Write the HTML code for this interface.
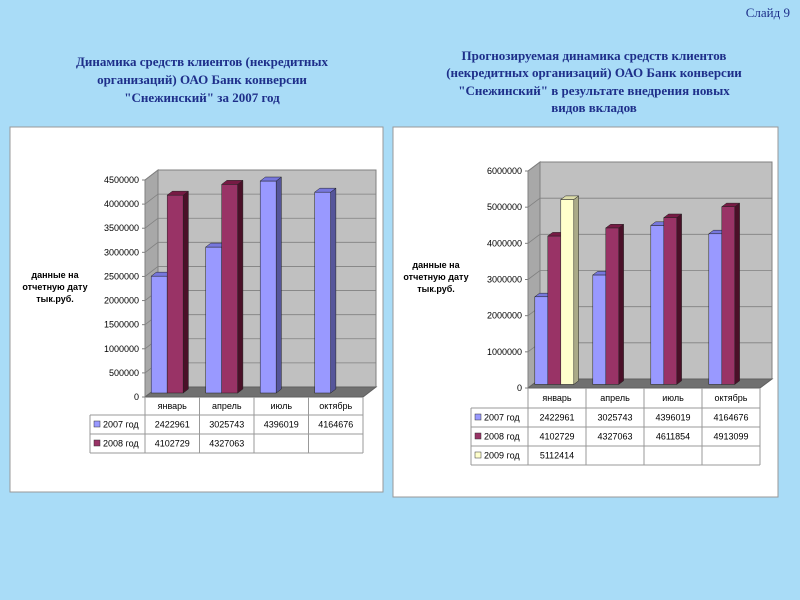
<!DOCTYPE html>
<html><head><meta charset="utf-8">
<style>
body{margin:0;background:#a9dcf7;}
svg{display:block;}
.ttl{font-family:"Liberation Serif",serif;font-weight:bold;font-size:13px;fill:#1e2f8a;text-anchor:middle;}
.ax{font-family:"Liberation Sans",sans-serif;font-size:9px;fill:#000;}
.axb{font-family:"Liberation Sans",sans-serif;font-size:9px;font-weight:bold;fill:#000;text-anchor:middle;}
</style></head>
<body>
<svg id="root" width="800" height="600" xmlns="http://www.w3.org/2000/svg">
<rect x="0" y="0" width="800" height="600" fill="#a9dcf7"/>
<text x="790" y="17" font-family="Liberation Serif,serif" font-size="13" fill="#1e2f8a" text-anchor="end">Слайд 9</text>
<g>
<text class="ttl" x="202" y="66">Динамика средств клиентов (некредитных</text>
<text class="ttl" x="202" y="84">организаций) ОАО Банк конверсии</text>
<text class="ttl" x="202" y="102">"Снежинский" за 2007 год</text>
</g>
<g>
<text class="ttl" x="594" y="60">Прогнозируемая динамика средств клиентов</text>
<text class="ttl" x="594" y="77">(некредитных организаций) ОАО Банк конверсии</text>
<text class="ttl" x="594" y="95">"Снежинский" в результате внедрения новых</text>
<text class="ttl" x="594" y="112">видов вкладов</text>
</g>
<rect x="10" y="127" width="373" height="365" fill="#fff" stroke="#999"/>
<rect x="393" y="127" width="385" height="370" fill="#fff" stroke="#999"/>
<g id="left"></g>
<g id="right"></g>
</svg>
<script>
const categories = ["январь","апрель","июль","октябрь"];
const leftSeriesNames = ["2007 год","2008 год"];
const left2007 = [2422961,3025743,4396019,4164676];
const left2008 = [4102729,4327063,null,null];
const leftTicks = [0,500000,1000000,1500000,2000000,2500000,3000000,3500000,4000000,4500000];
const rightSeriesNames = ["2007 год","2008 год","2009 год"];
const right2007 = [2422961,3025743,4396019,4164676];
const right2008 = [4102729,4327063,4611854,4913099];
const right2009 = [5112414,null,null,null];
const rightTicks = [0,1000000,2000000,3000000,4000000,5000000,6000000];

const NS="http://www.w3.org/2000/svg";
function mk(parent,tag,attrs,txt){const e=document.createElementNS(NS,tag);for(const k in attrs)e.setAttribute(k,attrs[k]);if(txt!==undefined)e.textContent=txt;parent.appendChild(e);return e;}

function drawChart(g,cfg){
  const {x0,x1,y0,yTop,dx,dy,maxV,ticks,series,names,colors,tops,sides,barW,gap,groupOff,legX,rowH,catH,labelX,labelY}=cfg;
  const yS=v=>y0-(v/maxV)*(y0-yTop);
  const slot=(x1-x0)/categories.length;
  // back wall
  const wall=mk(g,'polygon',{points:`${x0+dx},${yTop+dy} ${x1+dx},${yTop+dy} ${x1+dx},${y0+dy} ${x0+dx},${y0+dy}`,fill:'#c0c0c0',stroke:'#808080'});
  
  
  const sideW=mk(g,'polygon',{points:`${x0},${yTop} ${x0+dx},${yTop+dy} ${x0+dx},${y0+dy} ${x0},${y0}`,fill:'#a8a8a8',stroke:'#808080'});
  
  
  ticks.forEach(t=>{
    const y=yS(t);
    const gl=mk(g,'polyline',{points:`${x0},${y} ${x0+dx},${y+dy} ${x1+dx},${y+dy}`,fill:'none',stroke:'#808080','stroke-width':0.8});
    
    
    const tl=mk(g,'text',{x:x0-6,y:y+3,'text-anchor':'end',class:'ax'},String(t));
    
    
    mk(g,'line',{x1:x0-3,y1:y,x2:x0,y2:y,stroke:'#808080'});
  });
  const floor=mk(g,'polygon',{points:`${x0},${y0} ${x0+dx},${y0+dy} ${x1+dx},${y0+dy} ${x1},${y0}`,fill:'#707070',stroke:'#606060'});
  
  
  mk(g,'line',{x1:x0,y1:yTop,x2:x0,y2:y0,stroke:'#808080'});
  // bars
  const bdx=dx*0.4,bdy=dy*0.4;
  categories.forEach((c,ci)=>{
    series.forEach((s,si)=>{
      const v=s[ci]; if(v==null)return;
      const bx=x0+dx*0.4+ci*slot+groupOff+si*(barW+gap);
      const by=yS(v)+dy*0.4, bb=y0+dy*0.4;
      const bar=mk(g,'g',{});
      
      
      mk(bar,'rect',{x:bx,y:by,width:barW,height:bb-by,fill:colors[si],stroke:'#222','stroke-width':0.5});
      mk(bar,'polygon',{points:`${bx+barW},${by} ${bx+barW+bdx},${by+bdy} ${bx+barW+bdx},${bb+bdy} ${bx+barW},${bb}`,fill:sides[si],stroke:'#222','stroke-width':0.5});
      mk(bar,'polygon',{points:`${bx},${by} ${bx+bdx},${by+bdy} ${bx+barW+bdx},${by+bdy} ${bx+barW},${by}`,fill:tops[si],stroke:'#222','stroke-width':0.5});
    });
  });
  // y axis title
  const yt=mk(g,'text',{class:'axb',x:labelX,y:labelY});
  
  
  ['данные на','отчетную дату','тык.руб.'].forEach((l,i)=>mk(yt,'tspan',{x:labelX,dy:i?12:0},l));
  // data table
  const tb=mk(g,'g',{});
  
  
  const nRows=series.length;
  const yEnd=y0+catH+rowH*nRows;
  mk(tb,'line',{x1:x0,y1:y0,x2:x0,y2:yEnd,stroke:'#999'});
  for(let i=1;i<=categories.length;i++){const x=x0+i*slot;mk(tb,'line',{x1:x,y1:y0,x2:x,y2:yEnd,stroke:'#999'});}
  mk(tb,'line',{x1:legX,y1:y0+catH,x2:legX,y2:yEnd,stroke:'#999'});
  for(let r=0;r<=nRows;r++){const y=y0+catH+r*rowH;mk(tb,'line',{x1:legX,y1:y,x2:x1,y2:y,stroke:'#999'});}
  categories.forEach((c,ci)=>{
    const t=mk(tb,'text',{x:x0+(ci+0.5)*slot,y:y0+catH/2+3,'text-anchor':'middle',class:'ax'},c);
    
    
  });
  series.forEach((s,si)=>{
    const ry=y0+catH+si*rowH+rowH/2;
    const le=mk(tb,'g',{});
    
    
    mk(le,'rect',{x:legX+4,y:ry-3.5,width:6,height:6,fill:colors[si],stroke:'#333','stroke-width':0.5});
    mk(le,'text',{x:legX+13,y:ry+3,class:'ax'},names[si]);
    s.forEach((v,ci)=>{ if(v==null)return;
      const t=mk(tb,'text',{x:x0+(ci+0.5)*slot,y:ry+3,'text-anchor':'middle',class:'ax'},String(v));
      
      
    });
  });
}
drawChart(document.getElementById('left'),{x0:145,x1:363,y0:397,yTop:180,dx:13,dy:-10,maxV:4500000,ticks:leftTicks,
  series:[left2007,left2008],names:leftSeriesNames,colors:['#9999ff','#993366'],tops:['#7777dd','#771a44'],sides:['#55559a','#4a1028'],
  barW:16,gap:0,groupOff:1,legX:90,rowH:19,catH:18,labelX:55,labelY:278});
drawChart(document.getElementById('right'),{x0:528,x1:760,y0:388,yTop:171,dx:12,dy:-9,maxV:6000000,ticks:rightTicks,
  series:[right2007,right2008,right2009],names:rightSeriesNames,colors:['#9999ff','#993366','#ffffcc'],tops:['#7777dd','#771a44','#ddddaa'],sides:['#55559a','#4a1028','#aaaa88'],
  barW:13,gap:0,groupOff:2,legX:471,rowH:19,catH:20,labelX:436,labelY:268});
</script>
</body></html>
